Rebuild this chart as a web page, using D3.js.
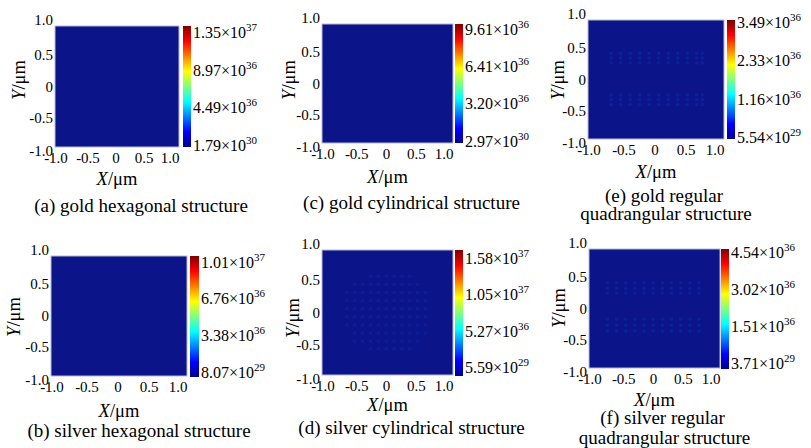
<!DOCTYPE html>
<html><head><meta charset="utf-8">
<script src="https://cdn.jsdelivr.net/npm/d3@7"></script>
<style>
body{margin:0;background:#fff}
svg text{font-family:"Liberation Serif",Tinos,"Times New Roman","DejaVu Serif","Noto Serif",serif;fill:#000}
</style>
</head><body><svg id="chart" width="811" height="448" font-family="Liberation Serif, Tinos, Times New Roman, DejaVu Serif, serif"></svg>
<script>
// ---------- data ----------
const panelIds = ["a","c","e","b","d","f"];
const captionLine1 = ["(a) gold hexagonal structure","(c) gold cylindrical structure","(e) gold regular",
                      "(b) silver hexagonal structure","(d) silver cylindrical structure","(f) silver regular"];
const captionLine2 = ["","","quadrangular structure","","","quadrangular structure"];
const axisTicks = [-1,-0.5,0,0.5,1];
const axisTickLabels = ["-1.0","-0.5","0","0.5","1.0"];
const cbMin = [1.79e30, 2.97e30, 5.54e29, 8.07e29, 5.59e29, 3.71e29];
const cbMax = [1.35e37, 9.61e36, 3.49e36, 1.01e37, 1.58e37, 4.54e36];
const cbMantissa = [["1.79","4.49","8.97","1.35"],["2.97","3.20","6.41","9.61"],["5.54","1.16","2.33","3.49"],
                    ["8.07","3.38","6.76","1.01"],["5.59","5.27","1.05","1.58"],["3.71","1.51","3.02","4.54"]];
const cbExponent = [[30,36,36,37],[30,36,36,36],[29,36,36,36],[29,36,36,37],[29,36,37,37],[29,36,36,36]];
// faint hot-spot rows / columns (in µm) visible in each field map
const spotRows = {
  a:[0.6,0.3,0,-0.3,-0.6], b:[0.6,0.3,0,-0.3,-0.6], c:[0.5,0.25,0,-0.25,-0.5],
  e:[0.44,0.36,0.28,-0.26,-0.34,-0.42], f:[0.43,0.34,0.26,-0.18,-0.28,-0.38],
  d:[0.58,0.45,0.32,0.19,0.06,-0.07,-0.2,-0.33,-0.46,-0.58]
};
const spotCols = {
  a:[-0.6,-0.3,0,0.3,0.6], b:[-0.6,-0.3,0,0.3,0.6], c:[-0.5,-0.25,0,0.25,0.5],
  e:[-0.66,-0.52,-0.38,-0.24,-0.1,0.04,0.18,0.32,0.46,0.6,0.68],
  f:[-0.72,-0.58,-0.44,-0.3,-0.16,-0.02,0.12,0.26,0.4,0.54,0.68],
  d:[-0.74,-0.62,-0.5,-0.38,-0.26,-0.14,-0.02,0.1,0.22,0.34,0.46,0.58]
};
const spotHalfWidth = { d:[0.35,0.5,0.62,0.7,0.72,0.72,0.68,0.6,0.5,0.35] };
const spotLevel = {a:0.012,b:0.012,c:0.012,e:0.05,f:0.05,d:0.04};

// ---------- layout ----------
const layout = {
  a:{x0:55,x1:179,y0:26,y1:147,cb0:183,cb1:191,cbB:147,lab:[145,32.5],xl:185,cap:[212],ylx:19,yly:80,capDx:0},
  c:{x0:322,x1:453,y0:24,y1:143,cb0:455,cb1:463,cbB:143,lab:[141,29],xl:183,cap:[209],ylx:289,yly:80,capDx:1},
  e:{x0:588,x1:724,y0:20,y1:139,cb0:727,cb1:735,cbB:139,lab:[137.5,22.5],xl:178,cap:[202,220],ylx:558,yly:80,capDx:0},
  b:{x0:51,x1:187,y0:256,y1:376,cb0:190,cb1:199,cbB:377,lab:[372,262],xl:417,cap:[437],ylx:14,yly:317,capDx:-4},
  d:{x0:322,x1:453,y0:250,y1:375,cb0:455,cb1:463,cbB:376,lab:[367.5,258],xl:411,cap:[434],ylx:293,yly:318,capDx:1},
  f:{x0:589,x1:720,y0:249,y1:368,cb0:721,cb1:729,cbB:369,lab:[363.5,252],xl:406,cap:[424,444],ylx:559,yly:308,capDx:0}
};
const xLabelShift = [1,2,-1,-4,-9];
const yLabelShift = [4,1,0,-2,-6];

const jetStops = [0,0.125,0.375,0.625,0.875,1];
const jetColors = ["#00008f","#0000ff","#00ffff","#ffff00","#ff0000","#800000"];
const jet = d3.scaleLinear().domain(jetStops).range(jetColors);
const fieldBase = "#0c148a";

const svg = d3.select("#chart");
const defs = svg.append("defs");
const grad = defs.append("linearGradient").attr("id","jet").attr("x1",0).attr("y1",1).attr("x2",0).attr("y2",0);
jetStops.forEach((s,i)=>grad.append("stop").attr("offset",s).attr("stop-color",jetColors[i]));

panelIds.forEach((id,pi)=>{
  const L = layout[id];
  const g = svg.append("g");
  const x = d3.scaleLinear().domain([-1,1]).range([L.x0,L.x1]);
  const y = d3.scaleLinear().domain([-1,1]).range([L.y1,L.y0]);
  const norm = d3.scaleLinear().domain([cbMin[pi],cbMax[pi]]).range([0,1]);

  g.append("rect").attr("x",x(-1)).attr("y",y(1)).attr("width",x(1)-x(-1)).attr("height",y(-1)-y(1))
    .attr("fill",fieldBase);
  const spots=[];
  spotRows[id].forEach((ry,ri)=>spotCols[id].forEach(cx=>{
    const hw = spotHalfWidth[id] ? spotHalfWidth[id][ri] : 2;
    if (Math.abs(cx) <= hw) spots.push([cx,ry]);
  }));
  const lvl = spotLevel[id];
  g.selectAll("rect.sp").data(spots).join("rect").attr("class","sp")
    .attr("x",d=>x(d[0])-1.5).attr("y",d=>y(d[1])-1.5).attr("width",3).attr("height",3)
    .attr("fill",jet(norm(cbMin[pi]+lvl*(cbMax[pi]-cbMin[pi]))*3+0.1))
    .attr("opacity", lvl>0.03?0.13:0.06);
  g.append("rect").attr("x",x(-1)).attr("y",y(1)).attr("width",x(1)-x(-1)).attr("height",y(-1)-y(1))
    .attr("fill","none").attr("stroke","#b9b9d2").attr("stroke-width",1);

  axisTicks.forEach((t,i)=>{
    g.append("text").attr("x",L.x0-2).attr("y",y(t)+yLabelShift[i]).attr("dy","0.35em")
      .attr("text-anchor","end").style("font-size","15px").text(axisTickLabels[i]);
  });
  axisTicks.forEach((t,i)=>{
    g.append("text").attr("x",x(t)+xLabelShift[i]).attr("y",L.y1+16)
      .attr("text-anchor","middle").style("font-size","15px").text(axisTickLabels[i]);
  });
  const xt = g.append("text").attr("x",(L.x0+L.x1)/2).attr("y",L.xl).attr("text-anchor","middle").style("font-size","18.5px");
  xt.append("tspan").style("font-style","italic").text("X");
  xt.append("tspan").text("/μm");
  const yt = g.append("text").attr("transform",`translate(${L.ylx},${L.yly}) rotate(-90)`)
    .attr("dy","0.35em").attr("text-anchor","middle").style("font-size","18.5px");
  yt.append("tspan").style("font-style","italic").text("Y");
  yt.append("tspan").text("/μm");

  g.append("rect").attr("x",L.cb0).attr("y",L.y0).attr("width",L.cb1-L.cb0).attr("height",L.cbB-L.y0)
    .attr("fill","url(#jet)");
  const cbY = d3.scaleLinear().domain([0,3]).range(L.lab);
  cbMantissa[pi].forEach((m,i)=>{
    const t = g.append("text").attr("x",L.cb1+2).attr("y",cbY(i)).attr("dy","0.35em").style("font-size","16px");
    t.append("tspan").text(m+"×10");
    t.append("tspan").attr("dy",-7).style("font-size","11px").text(cbExponent[pi][i]);
  });

  const capCx = (id==="e"||id==="f" ? (L.x0+L.x1)/2+10 : (L.x0+L.cb1)/2+18) + L.capDx;
  g.append("text").attr("x", id==="e"||id==="f"? capCx-2 : capCx).attr("y",L.cap[0]).attr("text-anchor","middle")
    .style("font-size","19px").text(captionLine1[pi]);
  if (captionLine2[pi]) g.append("text").attr("x",capCx).attr("y",L.cap[1]).attr("text-anchor","middle")
    .style("font-size","19px").text(captionLine2[pi]);
});
</script>
</body></html>
